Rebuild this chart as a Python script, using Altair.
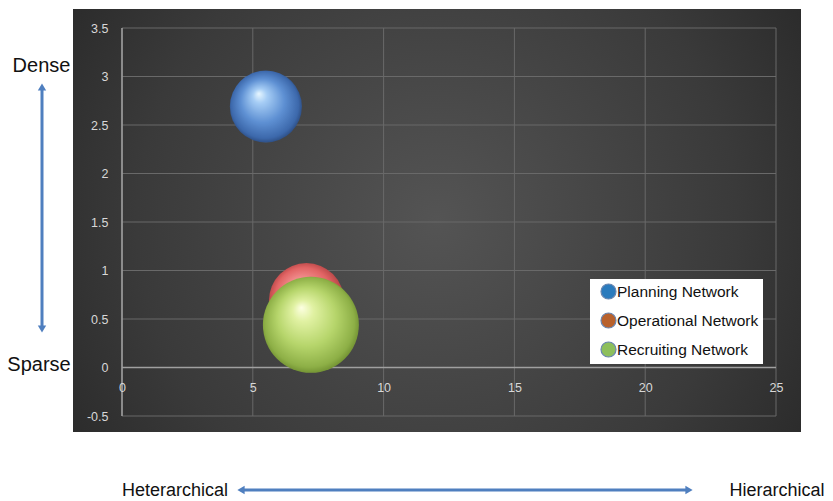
import altair as alt
import pandas as pd

# ---- data ----
series = ["Planning Network", "Operational Network", "Recruiting Network"]
x_vals = [5.5, 7.05, 7.22]
y_vals = [2.69, 0.69, 0.44]
bubble_sizes = [3.94, 4.27, 7.0]
legend_colors = ["#2b7bbd", "#b8612c", "#8dbf5c"]
x_ticks = [0, 5, 10, 15, 20, 25]
y_ticks = [-0.5, 0, 0.5, 1, 1.5, 2, 2.5, 3, 3.5]

df = pd.DataFrame({"series": series, "x": x_vals, "y": y_vals, "size": bubble_sizes})
one = pd.DataFrame({"k": [0]})
gx = pd.DataFrame({"x": x_ticks})
gy = pd.DataFrame({"y": y_ticks})

W, H = 654, 388
FONT = "Liberation Sans"

def grad(stops, x1=0.4, y1=0.32):
    return alt.RadialGradient(
        gradient="radial",
        stops=[alt.GradientStop(color=c, offset=o) for o, c in stops],
        x1=x1, y1=y1, r1=0, x2=0.5, y2=0.5, r2=0.55,
    )

sphere = {
    "Planning Network": grad([(0, "#e8f7ff"), (0.18, "#a6cdf5"), (0.55, "#5e90d3"),
                              (0.85, "#3c68ab"), (1, "#233c68")]),
    "Operational Network": grad([(0, "#fcc0b8"), (0.3, "#f29090"), (0.7, "#e26464"),
                                 (1, "#a93c3c")]),
    "Recruiting Network": grad([(0, "#fdffe2"), (0.2, "#e0f1a2"), (0.55, "#b6d56b"),
                                (0.85, "#8daf46"), (1, "#607e26")]),
}

axis_common = dict(
    grid=False, domain=False, ticks=False, zindex=1,
    labelColor="#d8d8d8", labelFont=FONT, labelFontSize=12.5,
    labelPadding=14, labelFlush=False, title=None,
    labelExpr="datum.value + ''",
)

x_enc = alt.X("x:Q", scale=alt.Scale(domain=[0, 25], nice=False, zero=False),
              axis=alt.Axis(values=x_ticks, offset=-48.5, **axis_common))
y_enc = alt.Y("y:Q", scale=alt.Scale(domain=[-0.5, 3.5], nice=False, zero=False),
              axis=alt.Axis(values=y_ticks, **axis_common))
size_enc = alt.Size("size:Q", scale=alt.Scale(domain=[0, 7], range=[0, 9216]), legend=None)

# dark panel behind the plot
panel = alt.Chart(one).mark_rect(
    fill=alt.RadialGradient(
        gradient="radial",
        stops=[alt.GradientStop(color="#545454", offset=0),
               alt.GradientStop(color="#3a3a3a", offset=0.55),
               alt.GradientStop(color="#1d1d1d", offset=1)],
        x1=0.5, y1=0.5, r1=0, x2=0.5, y2=0.5, r2=0.75),
).encode(x=alt.value(-49), x2=alt.value(679), y=alt.value(-19), y2=alt.value(404))

GRID = "#696969"
grid_v = alt.Chart(gx).mark_rule(color=GRID, strokeWidth=1).encode(
    x=x_enc, y=alt.datum(-0.5), y2=alt.datum(3.5))
grid_h = alt.Chart(gy).mark_rule(color=GRID, strokeWidth=1).encode(
    y=y_enc, x=alt.datum(0), x2=alt.datum(25))
# axis lines (Excel draws the value axis at x = 0 and the category axis at y = 0)
axis_y0 = alt.Chart(one).mark_rule(color="#a0a0a0", strokeWidth=1.5).encode(
    y=alt.datum(0), x=alt.datum(0), x2=alt.datum(25))
axis_x0 = alt.Chart(one).mark_rule(color="#a0a0a0", strokeWidth=1.5).encode(
    x=alt.datum(0), y=alt.datum(-0.5), y2=alt.datum(3.5))

# hidden layer that carries the legend
legend_layer = alt.Chart(df).mark_point(filled=True, opacity=0).encode(
    x=x_enc, y=y_enc,
    color=alt.Color("series:N",
                    scale=alt.Scale(domain=series, range=legend_colors),
                    legend=alt.Legend(
                        title=None, orient="none", legendX=468, legendY=251,
                        fillColor="white", padding=4, rowPadding=8,
                        symbolType="circle", symbolSize=225, symbolOpacity=1,
                        symbolOffset=6,
                        symbolStrokeColor="#6a86b0", symbolStrokeWidth=1.2,
                        labelFont=FONT, labelFontSize=15.5, labelColor="#111111",
                        labelOffset=0, labelLimit=300,
                    )),
)

bubbles = [
    alt.Chart(df).transform_filter(alt.datum.series == s)
    .mark_circle(opacity=1, fill=sphere[s], strokeWidth=0)
    .encode(x=x_enc, y=y_enc, size=size_enc)
    for s in series
]

arrow_color = "#4f7fbf"
def text(t, x, y):
    return alt.Chart(one).mark_text(
        text=t, font=FONT, fontSize=20 if t in ("Dense", "Sparse") else 18,
        color="#111111", align="center", baseline="alphabetic",
    ).encode(x=alt.value(x), y=alt.value(y))

def head(shape, x, y):
    return alt.Chart(one).mark_point(shape=shape, filled=True, size=70, opacity=1,
                                     color=arrow_color).encode(x=alt.value(x), y=alt.value(y))

annotations = [
    text("Dense", -80.5, 44),
    text("Sparse", -83, 343),
    text("Heterarchical", 53, 468),
    text("Hierarchical", 655, 468),
    alt.Chart(one).mark_rule(color=arrow_color, strokeWidth=3).encode(
        x=alt.value(-80), y=alt.value(60), y2=alt.value(300)),
    head("triangle-up", -80, 59),
    head("triangle-down", -80, 301),
    alt.Chart(one).mark_rule(color=arrow_color, strokeWidth=3).encode(
        x=alt.value(120), x2=alt.value(566), y=alt.value(462)),
    head("triangle-left", 119, 462),
    head("triangle-right", 567, 462),
]

chart = alt.layer(panel, grid_v, grid_h, axis_y0, axis_x0, legend_layer,
                  *bubbles, *annotations).properties(
    width=W, height=H,
    autosize=alt.AutoSizeParams(type="none"),
    padding={"left": 122, "top": 28, "right": 57, "bottom": 85},
    background="white",
).configure_view(stroke=None)

chart.save("out.html", embed_options={"renderer": "svg", "actions": False})
